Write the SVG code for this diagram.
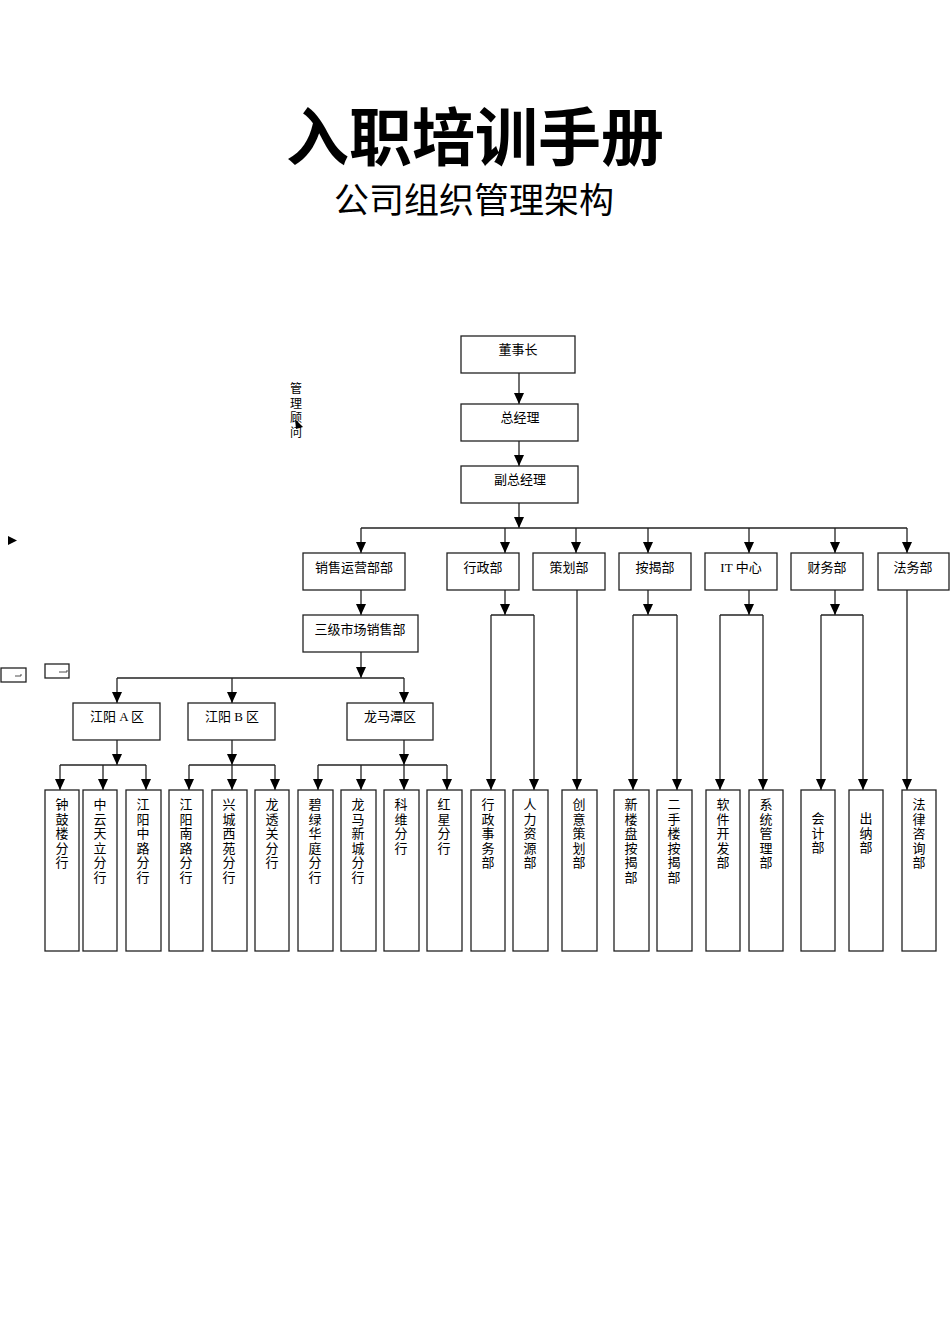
<svg xmlns="http://www.w3.org/2000/svg" width="950" height="1344" viewBox="0 0 950 1344">
<style>
.t{font-family:"Liberation Serif","Noto Sans CJK SC",sans-serif;font-size:13px;fill:#000;text-anchor:middle}
.v{font-family:"Liberation Serif","Noto Sans CJK SC",sans-serif;font-size:13px;fill:#000;text-anchor:middle}
.b{fill:#fff;stroke:#222;stroke-width:1.3}
.c{fill:none;stroke:#222;stroke-width:1.3}
.ca{fill:none;stroke:#222;stroke-width:1.3;marker-end:url(#ah)}
</style>
<defs>
<marker id="ah" markerUnits="userSpaceOnUse" markerWidth="11" markerHeight="10" refX="11" refY="5" orient="auto" viewBox="0 0 11 10">
<path d="M0,0 L11,5 L0,10 Z" fill="#000"/>
</marker>
</defs>
<rect width="950" height="1344" fill="#fff"/>
<g id="title">
<text x="475" y="160" style="font-family:'Noto Sans CJK SC',sans-serif;font-size:63px;font-weight:bold;text-anchor:middle">入职培训手册</text>
<text x="474" y="213" style="font-family:'Noto Sans CJK SC',sans-serif;font-size:35px;text-anchor:middle">公司组织管理架构</text>
</g>
<g id="stray">
<text class="v" style="font-size:12px" x="296"><tspan x="296" y="393">管</tspan><tspan x="296" y="408">理</tspan><tspan x="296" y="422">顾</tspan><tspan x="296" y="437">问</tspan></text>
<path d="M295,419 L303,427 L296,429 Z" fill="#000"/>
<path d="M8,536 L17,540.5 L8,545 Z" fill="#000"/>
<rect x="1" y="668" width="25" height="14" class="b"/>
<path d="M15,676 L21,676 M21,674 L21,676" class="c" style="stroke-width:0.8"/>
<rect x="45" y="664" width="24" height="14" class="b"/>
<path d="M59,672 L67,672 M67,670 L67,672" class="c" style="stroke-width:0.8"/>
</g>
<g id="connectors">
<path class="ca" d="M519,373 V404"/>
<path class="ca" d="M519,441 V466"/>
<path class="ca" d="M519,503 V528"/>
<path class="c" d="M361,528 H907"/>
<path class="ca" d="M361,528 V553"/>
<path class="ca" d="M505,528 V553"/>
<path class="ca" d="M576,528 V553"/>
<path class="ca" d="M648,528 V553"/>
<path class="ca" d="M749,528 V553"/>
<path class="ca" d="M835,528 V553"/>
<path class="ca" d="M907,528 V553"/>
<path class="ca" d="M361,590 V615"/>
<path class="ca" d="M361,652 V678"/>
<path class="c" d="M117,678 H404"/>
<path class="ca" d="M117,678 V703"/>
<path class="ca" d="M232,678 V703"/>
<path class="ca" d="M404,678 V703"/>
<path class="ca" d="M117,740 V765"/>
<path class="c" d="M60,765 H146"/>
<path class="ca" d="M60,765 V790"/>
<path class="ca" d="M103,765 V790"/>
<path class="ca" d="M146,765 V790"/>
<path class="ca" d="M232,740 V765"/>
<path class="c" d="M189,765 H275"/>
<path class="ca" d="M189,765 V790"/>
<path class="ca" d="M232,765 V790"/>
<path class="ca" d="M275,765 V790"/>
<path class="ca" d="M404,740 V765"/>
<path class="c" d="M318,765 H447"/>
<path class="ca" d="M318,765 V790"/>
<path class="ca" d="M361,765 V790"/>
<path class="ca" d="M404,765 V790"/>
<path class="ca" d="M447,765 V790"/>
<path class="ca" d="M505,590 V615"/>
<path class="c" d="M491,615 H534"/>
<path class="ca" d="M491,615 V790"/>
<path class="ca" d="M534,615 V790"/>
<path class="ca" d="M577,590 V790"/>
<path class="ca" d="M648,590 V615"/>
<path class="c" d="M633,615 H677"/>
<path class="ca" d="M633,615 V790"/>
<path class="ca" d="M677,615 V790"/>
<path class="ca" d="M749,590 V615"/>
<path class="c" d="M720,615 H763"/>
<path class="ca" d="M720,615 V790"/>
<path class="ca" d="M763,615 V790"/>
<path class="ca" d="M835,590 V615"/>
<path class="c" d="M821,615 H863"/>
<path class="ca" d="M821,615 V790"/>
<path class="ca" d="M863,615 V790"/>
<path class="ca" d="M907,590 V790"/>
</g>
<g id="n-dongshizhang"><rect class="b" x="461" y="336" width="114" height="37"/><text class="t" x="518" y="354">董事长</text></g>
<g id="n-zongjingli"><rect class="b" x="461" y="404" width="117" height="37"/><text class="t" x="520" y="422">总经理</text></g>
<g id="n-fuzongjingli"><rect class="b" x="461" y="466" width="117" height="37"/><text class="t" x="520" y="484">副总经理</text></g>
<g id="n-xiaoshou"><rect class="b" x="303" y="553" width="102" height="37"/><text class="t" x="354" y="572">销售运营部部</text></g>
<g id="n-xingzheng"><rect class="b" x="447" y="553" width="72" height="37"/><text class="t" x="483" y="572">行政部</text></g>
<g id="n-cehua"><rect class="b" x="533" y="553" width="72" height="37"/><text class="t" x="569" y="572">策划部</text></g>
<g id="n-anjie"><rect class="b" x="619" y="553" width="72" height="37"/><text class="t" x="655" y="572">按揭部</text></g>
<g id="n-it"><rect class="b" x="705" y="553" width="72" height="37"/><text class="t" x="741" y="572">IT 中心</text></g>
<g id="n-caiwu"><rect class="b" x="791" y="553" width="72" height="37"/><text class="t" x="827" y="572">财务部</text></g>
<g id="n-fawu"><rect class="b" x="878" y="553" width="71" height="37"/><text class="t" x="913" y="572">法务部</text></g>
<g id="n-sanji"><rect class="b" x="303" y="615" width="115" height="37"/><text class="t" x="360" y="634">三级市场销售部</text></g>
<g id="n-jiangyanga"><rect class="b" x="73" y="703" width="87" height="37"/><text class="t" x="117" y="721">江阳 A 区</text></g>
<g id="n-jiangyangb"><rect class="b" x="188" y="703" width="87" height="37"/><text class="t" x="232" y="721">江阳 B 区</text></g>
<g id="n-longmatan"><rect class="b" x="347" y="703" width="86" height="37"/><text class="t" x="390" y="721">龙马潭区</text></g>
<g id="n-zhonggulou"><rect class="b" x="45" y="790" width="34" height="161"/><text class="v"><tspan x="62" y="809">钟</tspan><tspan x="62" dy="14.6">鼓</tspan><tspan x="62" dy="14.6">楼</tspan><tspan x="62" dy="14.6">分</tspan><tspan x="62" dy="14.6">行</tspan></text></g>
<g id="n-zhongyun"><rect class="b" x="83" y="790" width="34" height="161"/><text class="v"><tspan x="100" y="809">中</tspan><tspan x="100" dy="14.6">云</tspan><tspan x="100" dy="14.6">天</tspan><tspan x="100" dy="14.6">立</tspan><tspan x="100" dy="14.6">分</tspan><tspan x="100" dy="14.6">行</tspan></text></g>
<g id="n-jyzhonglu"><rect class="b" x="126" y="790" width="35" height="161"/><text class="v"><tspan x="143" y="809">江</tspan><tspan x="143" dy="14.6">阳</tspan><tspan x="143" dy="14.6">中</tspan><tspan x="143" dy="14.6">路</tspan><tspan x="143" dy="14.6">分</tspan><tspan x="143" dy="14.6">行</tspan></text></g>
<g id="n-jynanlu"><rect class="b" x="169" y="790" width="34" height="161"/><text class="v"><tspan x="186" y="809">江</tspan><tspan x="186" dy="14.6">阳</tspan><tspan x="186" dy="14.6">南</tspan><tspan x="186" dy="14.6">路</tspan><tspan x="186" dy="14.6">分</tspan><tspan x="186" dy="14.6">行</tspan></text></g>
<g id="n-xingcheng"><rect class="b" x="212" y="790" width="35" height="161"/><text class="v"><tspan x="229" y="809">兴</tspan><tspan x="229" dy="14.6">城</tspan><tspan x="229" dy="14.6">西</tspan><tspan x="229" dy="14.6">苑</tspan><tspan x="229" dy="14.6">分</tspan><tspan x="229" dy="14.6">行</tspan></text></g>
<g id="n-longtouguan"><rect class="b" x="255" y="790" width="34" height="161"/><text class="v"><tspan x="272" y="809">龙</tspan><tspan x="272" dy="14.6">透</tspan><tspan x="272" dy="14.6">关</tspan><tspan x="272" dy="14.6">分</tspan><tspan x="272" dy="14.6">行</tspan></text></g>
<g id="n-bilv"><rect class="b" x="298" y="790" width="35" height="161"/><text class="v"><tspan x="315" y="809">碧</tspan><tspan x="315" dy="14.6">绿</tspan><tspan x="315" dy="14.6">华</tspan><tspan x="315" dy="14.6">庭</tspan><tspan x="315" dy="14.6">分</tspan><tspan x="315" dy="14.6">行</tspan></text></g>
<g id="n-longmaxincheng"><rect class="b" x="341" y="790" width="35" height="161"/><text class="v"><tspan x="358" y="809">龙</tspan><tspan x="358" dy="14.6">马</tspan><tspan x="358" dy="14.6">新</tspan><tspan x="358" dy="14.6">城</tspan><tspan x="358" dy="14.6">分</tspan><tspan x="358" dy="14.6">行</tspan></text></g>
<g id="n-kewei"><rect class="b" x="384" y="790" width="35" height="161"/><text class="v"><tspan x="401" y="809">科</tspan><tspan x="401" dy="14.6">维</tspan><tspan x="401" dy="14.6">分</tspan><tspan x="401" dy="14.6">行</tspan></text></g>
<g id="n-hongxing"><rect class="b" x="427" y="790" width="35" height="161"/><text class="v"><tspan x="444" y="809">红</tspan><tspan x="444" dy="14.6">星</tspan><tspan x="444" dy="14.6">分</tspan><tspan x="444" dy="14.6">行</tspan></text></g>
<g id="n-xingzhengshiwu"><rect class="b" x="471" y="790" width="34" height="161"/><text class="v"><tspan x="488" y="809">行</tspan><tspan x="488" dy="14.6">政</tspan><tspan x="488" dy="14.6">事</tspan><tspan x="488" dy="14.6">务</tspan><tspan x="488" dy="14.6">部</tspan></text></g>
<g id="n-renli"><rect class="b" x="513" y="790" width="35" height="161"/><text class="v"><tspan x="530" y="809">人</tspan><tspan x="530" dy="14.6">力</tspan><tspan x="530" dy="14.6">资</tspan><tspan x="530" dy="14.6">源</tspan><tspan x="530" dy="14.6">部</tspan></text></g>
<g id="n-chuangyi"><rect class="b" x="562" y="790" width="35" height="161"/><text class="v"><tspan x="579" y="809">创</tspan><tspan x="579" dy="14.6">意</tspan><tspan x="579" dy="14.6">策</tspan><tspan x="579" dy="14.6">划</tspan><tspan x="579" dy="14.6">部</tspan></text></g>
<g id="n-xinloupan"><rect class="b" x="614" y="790" width="35" height="161"/><text class="v"><tspan x="631" y="809">新</tspan><tspan x="631" dy="14.6">楼</tspan><tspan x="631" dy="14.6">盘</tspan><tspan x="631" dy="14.6">按</tspan><tspan x="631" dy="14.6">揭</tspan><tspan x="631" dy="14.6">部</tspan></text></g>
<g id="n-ershoulou"><rect class="b" x="657" y="790" width="35" height="161"/><text class="v"><tspan x="674" y="809">二</tspan><tspan x="674" dy="14.6">手</tspan><tspan x="674" dy="14.6">楼</tspan><tspan x="674" dy="14.6">按</tspan><tspan x="674" dy="14.6">揭</tspan><tspan x="674" dy="14.6">部</tspan></text></g>
<g id="n-ruanjian"><rect class="b" x="706" y="790" width="34" height="161"/><text class="v"><tspan x="723" y="809">软</tspan><tspan x="723" dy="14.6">件</tspan><tspan x="723" dy="14.6">开</tspan><tspan x="723" dy="14.6">发</tspan><tspan x="723" dy="14.6">部</tspan></text></g>
<g id="n-xitong"><rect class="b" x="749" y="790" width="34" height="161"/><text class="v"><tspan x="766" y="809">系</tspan><tspan x="766" dy="14.6">统</tspan><tspan x="766" dy="14.6">管</tspan><tspan x="766" dy="14.6">理</tspan><tspan x="766" dy="14.6">部</tspan></text></g>
<g id="n-kuaiji"><rect class="b" x="801" y="790" width="34" height="161"/><text class="v"><tspan x="818" y="823">会</tspan><tspan x="818" dy="14.6">计</tspan><tspan x="818" dy="14.6">部</tspan></text></g>
<g id="n-chuna"><rect class="b" x="849" y="790" width="34" height="161"/><text class="v"><tspan x="866" y="823">出</tspan><tspan x="866" dy="14.6">纳</tspan><tspan x="866" dy="14.6">部</tspan></text></g>
<g id="n-falv"><rect class="b" x="902" y="790" width="34" height="161"/><text class="v"><tspan x="919" y="809">法</tspan><tspan x="919" dy="14.6">律</tspan><tspan x="919" dy="14.6">咨</tspan><tspan x="919" dy="14.6">询</tspan><tspan x="919" dy="14.6">部</tspan></text></g>
</svg>
